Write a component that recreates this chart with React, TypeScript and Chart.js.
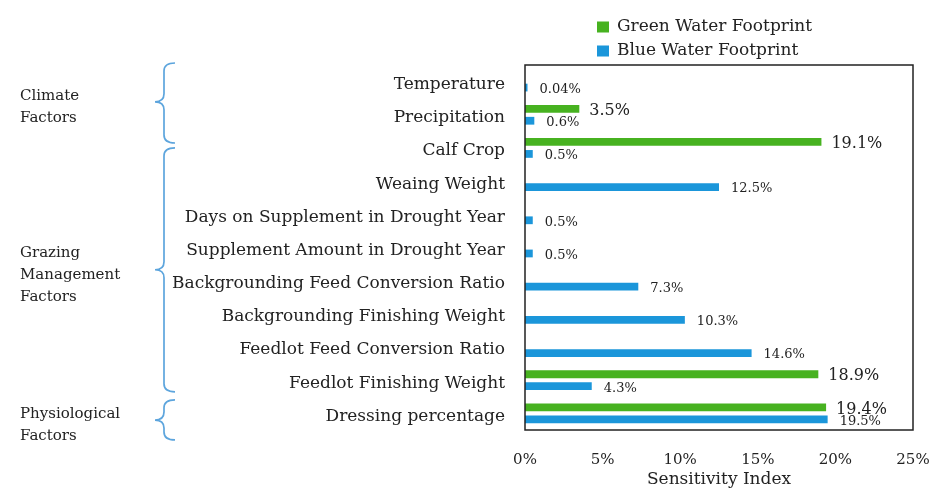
import React, { useEffect, useRef } from "react";
import { Chart, registerables } from "chart.js";

Chart.register(...registerables);

const categories = [
  "Temperature",
  "Precipitation",
  "Calf Crop",
  "Weaing Weight",
  "Days on Supplement in Drought Year",
  "Supplement Amount in Drought Year",
  "Backgrounding Feed Conversion Ratio",
  "Backgrounding Finishing Weight",
  "Feedlot Feed Conversion Ratio",
  "Feedlot Finishing Weight",
  "Dressing percentage",
];
const greenWater = [null, 3.5, 19.1, null, null, null, null, null, null, 18.9, 19.4];
const blueWater = [0.04, 0.6, 0.5, 12.5, 0.5, 0.5, 7.3, 10.3, 14.6, 4.3, 19.5];
const seriesNames = ["Green Water Footprint", "Blue Water Footprint"];
const seriesColors = ["#47B220", "#1B96DA"];
const xTickValues = [0, 5, 10, 15, 20, 25];
const xTitle = "Sensitivity Index";

// factor groups: text lines, brace span (category units), tip
const groupLines = [["Climate", "Factors"], ["Grazing", "Management", "Factors"], ["Physiological", "Factors"]];
const groupFrom = [-0.56, 2.0, 9.59];
const groupTo = [1.85, 9.35, 10.8];
const groupTip = [0.61, 5.67, 10.2];

const FONT = "'DejaVu Serif', serif";
const TEXT = "#222222";

const decorPlugin = {
  id: "decor",
  afterDatasetsDraw(chart: any) {
    const ctx = chart.ctx;
    ctx.save();
    ctx.textBaseline = "middle";
    ctx.textAlign = "left";
    chart.data.datasets.forEach((ds: any, di: number) => {
      const meta = chart.getDatasetMeta(di);
      ctx.font = di === 0 ? `16px ${FONT}` : `13px ${FONT}`;
      ctx.fillStyle = TEXT;
      meta.data.forEach((el: any, i: number) => {
        const v = ds.data[i];
        if (v === null || v === undefined) return;
        ctx.fillText(`${v}%`, el.x + (di === 0 ? 10 : 12), el.y + 2);
      });
    });
    ctx.restore();
  },
  afterDraw(chart: any) {
    const ctx = chart.ctx;
    const a = chart.chartArea;
    const ys = chart.scales.y;
    ctx.save();
    // frame
    ctx.strokeStyle = "#222";
    ctx.lineWidth = 1.5;
    ctx.strokeRect(a.left, a.top, a.right - a.left, a.bottom - a.top);

    // legend
    ctx.textBaseline = "middle";
    ctx.textAlign = "left";
    ctx.font = `17px ${FONT}`;
    seriesNames.forEach((name, i) => {
      const cy = 27 + i * 24;
      ctx.fillStyle = seriesColors[i];
      ctx.fillRect(a.left + 72, cy - 5.5, 12, 11);
      ctx.fillStyle = TEXT;
      ctx.fillText(name, a.left + 92, cy);
    });

    // braces & group labels
    ctx.strokeStyle = "#5DA5DD";
    ctx.lineWidth = 1.7;
    groupLines.forEach((lines, g) => {
      const y0 = ys.getPixelForValue(groupFrom[g]);
      const y1 = ys.getPixelForValue(groupTo[g]);
      const ym = ys.getPixelForValue(groupTip[g]);
      const xt = 155;
      const xs = 164;
      const xe = 175;
      const r = 8;
      ctx.beginPath();
      ctx.moveTo(xe, y0);
      ctx.quadraticCurveTo(xs, y0, xs, y0 + r);
      ctx.lineTo(xs, ym - r);
      ctx.quadraticCurveTo(xs, ym, xt, ym);
      ctx.quadraticCurveTo(xs, ym, xs, ym + r);
      ctx.lineTo(xs, y1 - r);
      ctx.quadraticCurveTo(xs, y1, xe, y1);
      ctx.stroke();

      ctx.fillStyle = TEXT;
      ctx.font = `15px ${FONT}`;
      const lh = 22;
      const cy = ym + 5;
      lines.forEach((t, k) => {
        ctx.fillText(t, 20, cy + (k - (lines.length - 1) / 2) * lh);
      });
    });
    ctx.restore();
  },
};

export default function App() {
  const ref = useRef<HTMLCanvasElement | null>(null);
  useEffect(() => {
    if (!ref.current) return;
    const chart = new Chart(ref.current, {
      type: "bar",
      data: {
        labels: categories,
        datasets: [
          { label: seriesNames[0], data: greenWater, backgroundColor: seriesColors[0], borderWidth: 0 },
          { label: seriesNames[1], data: blueWater, backgroundColor: seriesColors[1], borderWidth: 0, minBarLength: 2.5 },
        ],
      },
      options: {
        indexAxis: "y",
        responsive: false,
        animation: false,
        devicePixelRatio: 1,
        layout: { padding: { left: 0, top: 65, right: 16, bottom: 0 } },
        datasets: { bar: { categoryPercentage: 0.72, barPercentage: 0.65 } },
        plugins: { legend: { display: false }, tooltip: { enabled: false } },
        scales: {
          x: {
            min: 0,
            max: 25,
            afterFit: (s: any) => {
              s.height = 58;
              s.paddingLeft = 0;
              s.paddingRight = 0;
            },
            afterBuildTicks: (s: any) => { s.ticks = xTickValues.map((v) => ({ value: v })); },
            grid: { display: false, drawTicks: false },
            border: { display: false },
            ticks: {
              padding: 21,
              maxRotation: 0,
              color: TEXT,
              font: { family: FONT, size: 15 },
              callback: (v: any) => `${v}%`,
            },
            title: {
              display: true,
              text: xTitle,
              color: TEXT,
              font: { family: FONT, size: 17, lineHeight: 1 },
              padding: { top: 0, bottom: 0 },
            },
          },
          y: {
            afterFit: (s: any) => {
              s.width = 525;
              s.paddingTop = 0;
              s.paddingBottom = 0;
            },
            grid: { display: false, drawTicks: false },
            border: { display: false },
            ticks: {
              padding: 20,
              labelOffset: 3,
              color: TEXT,
              autoSkip: false,
              font: { family: FONT, size: 17 },
            },
          },
        },
      },
      plugins: [decorPlugin],
    });
    return () => chart.destroy();
  }, []);
  return (
    <div style={{ position: "fixed", left: 0, top: 0, width: 929, height: 488, background: "#fff" }}>
      <canvas ref={ref} width={929} height={488} style={{ display: "block" }} />
    </div>
  );
}
